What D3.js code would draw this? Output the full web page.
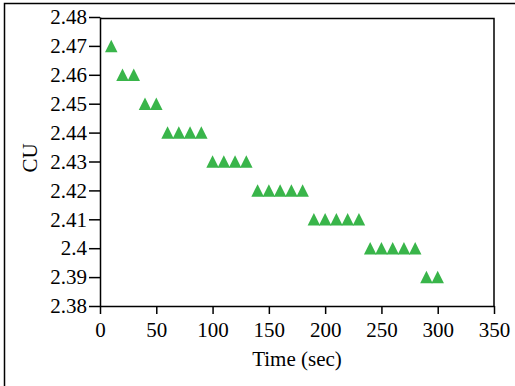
<!DOCTYPE html>
<html>
<head>
<meta charset="utf-8">
<script src="https://cdn.jsdelivr.net/npm/d3@7"></script>
<style>
  html, body { margin: 0; padding: 0; background: #fff; }
  svg { display: block; }
</style>
</head>
<body>
<svg id="chart" width="515" height="386"></svg>
<script>
// Cell voltage readings over time
const timeSec = [10, 20, 30, 40, 50, 60, 70, 80, 90, 100, 110, 120, 130,
                 140, 150, 160, 170, 180, 190, 200, 210, 220, 230,
                 240, 250, 260, 270, 280, 290, 300];
const cuValues = [2.47, 2.46, 2.46, 2.45, 2.45, 2.44, 2.44, 2.44, 2.44,
                  2.43, 2.43, 2.43, 2.43, 2.42, 2.42, 2.42, 2.42, 2.42,
                  2.41, 2.41, 2.41, 2.41, 2.41, 2.40, 2.40, 2.40, 2.40, 2.40,
                  2.39, 2.39];
const xTicks = [0, 50, 100, 150, 200, 250, 300, 350];
const yTicks = [2.38, 2.39, 2.40, 2.41, 2.42, 2.43, 2.44, 2.45, 2.46, 2.47, 2.48];
const yTickLabels = ["2.38", "2.39", "2.4", "2.41", "2.42", "2.43", "2.44", "2.45", "2.46", "2.47", "2.48"];

const svg = d3.select("#chart");
const font = "'Liberation Serif', 'Times New Roman', serif";
const fontSize = "21px";

// outer figure frame
svg.append("path")
  .attr("d", "M4.5,386 V3.5 H515")
  .attr("fill", "none").attr("stroke", "#000").attr("stroke-width", 1.5);

const plotLeft = 100, plotRight = 494, plotTop = 17, plotBottom = 306;
const x = d3.scaleLinear().domain([0, 350]).range([plotLeft, plotRight]);
const y = d3.scaleLinear().domain([2.38, 2.48]).range([plotBottom, plotTop]);

// plot frame (top and right edges)
svg.append("path")
  .attr("d", `M${plotLeft},${plotTop + 1.5} H${plotRight} V${plotBottom}`)
  .attr("fill", "none").attr("stroke", "#000").attr("stroke-width", 1.5);

const xAxis = svg.append("g")
  .attr("transform", `translate(0,${plotBottom})`)
  .call(d3.axisBottom(x).tickValues(xTicks).tickSize(8).tickPadding(8).tickSizeOuter(0));
const yAxis = svg.append("g")
  .attr("transform", `translate(${plotLeft},0)`)
  .call(d3.axisLeft(y).tickValues(yTicks).tickSize(11).tickPadding(2).tickSizeOuter(0)
    .tickFormat((d, i) => yTickLabels[i]));

[xAxis, yAxis].forEach(g => {
  g.select(".domain").attr("stroke", "#000").attr("stroke-width", 1.5);
  g.selectAll(".tick line").attr("stroke", "#000").attr("stroke-width", 1.5);
  g.selectAll(".tick text").attr("fill", "#000")
    .style("font-family", font).style("font-size", fontSize);
});

// axis titles
svg.append("text")
  .attr("x", 297).attr("y", 366)
  .attr("text-anchor", "middle")
  .style("font-family", font).style("font-size", fontSize)
  .text("Time (sec)");
svg.append("text")
  .attr("transform", "translate(37,158) rotate(-90)")
  .attr("text-anchor", "middle")
  .style("font-family", font).style("font-size", fontSize)
  .text("CU");

// triangle markers, centred on their bounding box
const w = 12.5, h = 12.5;
const tri = `M0,${-h / 2} L${w / 2},${h / 2} L${-w / 2},${h / 2} Z`;
svg.append("g").selectAll("path")
  .data(timeSec.map((t, i) => [t, cuValues[i]]))
  .join("path")
  .attr("d", tri)
  .attr("transform", d => `translate(${x(d[0])},${y(d[1])})`)
  .attr("fill", "#39b54a");
</script>
</body>
</html>
